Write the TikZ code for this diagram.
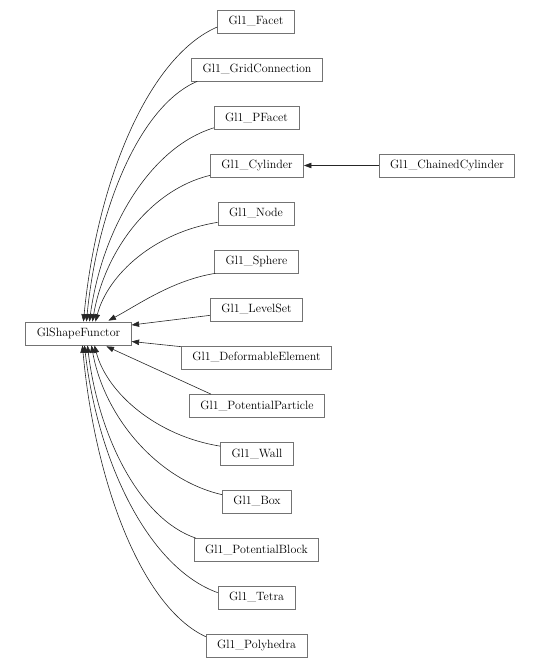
\documentclass[tikz,border=0pt]{standalone}
\usetikzlibrary{arrows.meta}
\tikzset{
  cls/.style={draw=black!55, fill=white, line width=0.7pt, inner xsep=11pt, inner ysep=0pt,
    minimum height=23pt, font=\fontsize{12}{14}\selectfont},
  edge/.style={draw=black!85, line width=0.6pt, -{Triangle[length=7.5pt,width=5.5pt]}}
}
\begin{document}
\begin{tikzpicture}[x=1pt,y=-1pt]
\useasboundingbox (0,0) rectangle (539,668);
\node[cls] (gsf) at (78.5,333.5) {GlShapeFunctor};
\node[cls] (facet) at (256,21.5) {Gl1\_Facet};
\node[cls] (gc) at (257,69.5) {Gl1\_GridConnection};
\node[cls] (pfacet) at (256.5,118) {Gl1\_PFacet};
\node[cls] (cyl) at (257,165.5) {Gl1\_Cylinder};
\node[cls] (cc) at (447,165.5) {Gl1\_ChainedCylinder};
\node[cls] (nd) at (256,213.5) {Gl1\_Node};
\node[cls] (sphere) at (256.5,261.5) {Gl1\_Sphere};
\node[cls] (ls) at (256.5,309.5) {Gl1\_LevelSet};
\node[cls] (de) at (256.5,357.5) {Gl1\_DeformableElement};
\node[cls] (pp) at (257,406) {Gl1\_PotentialParticle};
\node[cls] (wall) at (257,454) {Gl1\_Wall};
\node[cls] (bx) at (257,501.5) {Gl1\_Box};
\node[cls] (pb) at (256.5,550) {Gl1\_PotentialBlock};
\node[cls] (tetra) at (256.5,597.5) {Gl1\_Tetra};
\node[cls] (poly) at (256.5,645.5) {Gl1\_Polyhedra};

% top curves
\draw[edge] ([yshift=-5.5pt]facet.west) .. controls +(-68.5,29.5) and +(13.7,-141.6) .. ([xshift=58pt]gsf.north west);
\draw[edge] ([xshift=6pt]gc.south west) .. controls +(-56.5,24) and +(11.3,-115.2) .. ([xshift=61pt]gsf.north west);
\draw[edge] ([yshift=2pt]pfacet.south west) .. controls +(-63.5,19.5) and +(12.7,-93.6) .. ([xshift=64pt]gsf.north west);
\draw[edge] ([yshift=2pt]cyl.south west) .. controls +(-60.5,14.6) and +(12.1,-70) .. ([xshift=67pt]gsf.north west);
\draw[edge] ([yshift=3pt]nd.south west) .. controls +(-63,9.9) and +(12.6,-47.5) .. ([xshift=70pt]gsf.north west);
\draw[edge] ([xshift=1pt]sphere.south west) .. controls +(-43,7) and +(30,-16) .. ([xshift=83pt,yshift=1pt]gsf.north west);
% straight ones
\draw[edge] ([yshift=6pt]ls.south west) -- ([yshift=8.5pt]gsf.east);
\draw[edge] ([yshift=-1pt]de.north west) -- ([yshift=-8pt]gsf.east);
\draw[edge] ([xshift=22pt]pp.north west) -- ([xshift=81pt,yshift=-1pt]gsf.south west);
% bottom curves
\draw[edge] ([yshift=-4pt]wall.north west) .. controls +(-63.5,-10) and +(12.7,48) .. ([xshift=69pt]gsf.south west);
\draw[edge] ([yshift=-5pt]bx.north west) .. controls +(-65,-14.9) and +(13,71.5) .. ([xshift=66pt]gsf.south west);
\draw[edge] ([xshift=2pt]pb.north west) .. controls +(-56,-19.1) and +(11.2,91.7) .. ([xshift=62pt]gsf.south west);
\draw[edge] ([yshift=-7pt]tetra.north west) .. controls +(-68.5,-24.7) and +(13.7,118.6) .. ([xshift=59pt]gsf.south west);
\draw[edge] ([yshift=-3pt]poly.north west) .. controls +(-63,-29.1) and +(12.6,139.7) .. ([xshift=57pt]gsf.south west);
% chained cylinder
\draw[edge] (cc.west) -- (cyl.east);
\end{tikzpicture}
\end{document}
